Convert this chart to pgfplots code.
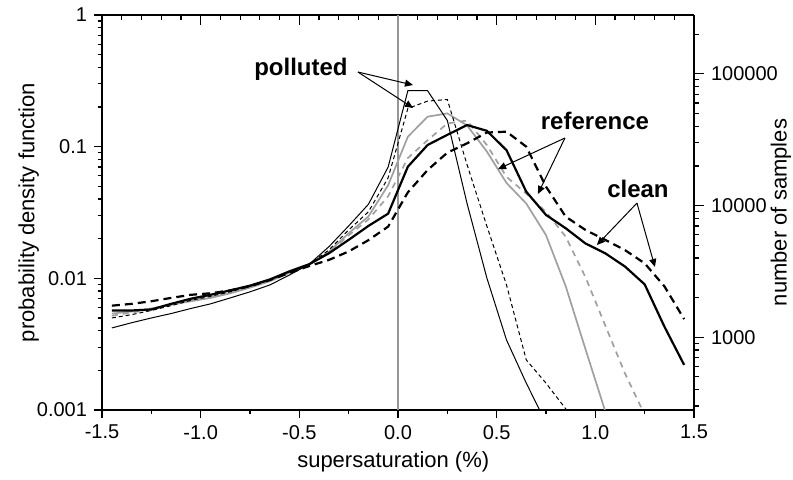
\documentclass[border=0pt]{standalone}
\usepackage{fontspec}
\setmainfont{Liberation Sans}
\usepackage{pgfplots}
\usepackage{pgfplotstable}
\pgfplotsset{compat=1.18}
\usetikzlibrary{arrows.meta}

\definecolor{lgray}{RGB}{160,160,160}
\definecolor{zgray}{RGB}{150,150,150}

% pdf per bin: A polluted solid, B polluted dashed, C reference solid,
% D reference dashed, E clean solid, F clean dashed
\pgfplotstableread{
x     A       B       C       D       E       F
-1.45 0.0042  0.0050  0.0054  0.0052  0.0057  0.0062
-1.35 0.0046  0.0053  0.0056  0.0055  0.0057  0.0064
-1.25 0.0050  0.0057  0.0059  0.0058  0.0058  0.0067
-1.15 0.0054  0.0062  0.0063  0.0063  0.0064  0.0071
-1.05 0.0059  0.0068  0.0067  0.0068  0.0070  0.0075
-0.95 0.0064  0.0073  0.0071  0.0072  0.0075  0.0077
-0.85 0.0071  0.0079  0.0077  0.0078  0.0081  0.0081
-0.75 0.0079  0.0087  0.0085  0.0086  0.0088  0.0087
-0.65 0.0089  0.0097  0.0095  0.0096  0.0098  0.0097
-0.55 0.0106  0.0112  0.0110  0.0111  0.0113  0.0110
-0.45 0.0128  0.0128  0.0127  0.0127  0.0128  0.0124
-0.35 0.0174  0.0164  0.0159  0.0157  0.0155  0.0138
-0.25 0.0250  0.0233  0.0220  0.0212  0.0196  0.0160
-0.15 0.0365  0.0320  0.0295  0.0280  0.0250  0.0195
-0.05 0.0700  0.0580  0.0510  0.0420  0.0310  0.0247
0.05  0.266   0.195   0.119   0.082   0.0705  0.045
0.15  0.266   0.222   0.169   0.112   0.103   0.0665
0.25  0.158   0.228   0.179   0.150   0.123   0.090
0.35  0.037   0.073   0.145   0.158   0.146   0.106
0.45  0.0101  0.025   0.092   0.103   0.132   0.128
0.55  0.0034  0.0089  0.053   0.059   0.094   0.130
0.65  0.0016  0.0024  0.037   0.044   0.0455  0.100
0.75  0.0008  0.0016  0.0213  0.032   0.0303  0.0497
0.85  nan     0.00102 0.0087  0.0207  0.024   0.0294
0.95  nan     0.0006  0.0029  0.0102  0.0184  0.0233
1.05  nan     nan     0.00098 0.0044  0.0155  0.0196
1.15  nan     nan     0.0004  0.0019  0.0123  0.0164
1.25  nan     nan     nan     0.00092 0.0090  0.0130
1.35  nan     nan     nan     0.0004  0.0043  0.0087
1.45  nan     nan     nan     nan     0.0022  0.0049
}\pdfdata

\begin{document}
\begin{tikzpicture}
\path[use as bounding box] (-51pt,-35pt) rectangle (345.5pt,205pt);
\pgfplotsset{every axis/.append style={
  scale only axis, width=296pt, height=197.5pt,
  xmin=-1.5, xmax=1.5,
  axis line style={line width=0.65pt},
  tick style={line width=0.6pt, black},
  major tick length=4pt, minor tick length=2pt,
  tick label style={font=\fontsize{10}{12}\selectfont},
  label style={font=\fontsize{11}{13}\selectfont}}}

% top ticks
\begin{axis}[hide y axis, ymin=0, ymax=1,
  axis x line*=top, tick align=inside,
  major tick length=5pt, minor tick length=2.5pt,
  xtick={-1.5,-1,-0.5,0,0.5,1,1.5}, xticklabels={},
  minor x tick num=4]
\end{axis}

% right axis: number of samples
\begin{axis}[hide x axis, ymode=log, ymin=280, ymax=280000,
  axis y line*=right, tick align=outside,
  major tick length=5pt, minor tick length=2.5pt,
  ytick={1000,10000,100000}, yticklabels={1000,10000,100000},
  minor ytick={300,400,500,600,700,800,900,2000,3000,4000,5000,6000,7000,8000,9000,
    20000,30000,40000,50000,60000,70000,80000,90000,200000},
  ylabel={number of samples},
  ylabel style={at={(axis description cs:1.147,0.5)}, anchor=center}]
\end{axis}

% main axis
\begin{axis}[ymode=log, ymin=0.001, ymax=1,
  axis x line*=bottom, axis y line*=left, tick align=outside,
  xtick={-1.5,-1,-0.5,0,0.5,1,1.5},
  xticklabels={-1.5,-1.0,-0.5,0.0,0.5,1.0,1.5},
  minor x tick num=1,
  ytick={0.001,0.01,0.1,1}, yticklabels={0.001,0.01,0.1,1},
  minor ytick={0.002,0.003,0.004,0.005,0.006,0.007,0.008,0.009,
    0.02,0.03,0.04,0.05,0.06,0.07,0.08,0.09,
    0.2,0.3,0.4,0.5,0.6,0.7,0.8,0.9},
  xlabel={supersaturation (\%)},
  ylabel={probability density function},
  xlabel style={at={(axis description cs:0.492,-0.132)}, anchor=center},
  ylabel style={at={(axis description cs:-0.124,0.5)}, anchor=center},
  unbounded coords=jump]

\addplot[zgray, line width=0.6pt] coordinates {(0,0.001) (0,1)};

\addplot[lgray, line width=0.85pt] table[x=x,y=C]{\pdfdata};
\addplot[lgray, line width=0.85pt, dash pattern=on 3pt off 2.5pt] table[x=x,y=D]{\pdfdata};
\addplot[black, line width=0.5pt] table[x=x,y=A]{\pdfdata};
\addplot[black, line width=0.5pt, dash pattern=on 2pt off 1.5pt] table[x=x,y=B]{\pdfdata};
\addplot[black, line width=1.1pt] table[x=x,y=E]{\pdfdata};
\addplot[black, line width=1.1pt, dash pattern=on 4pt off 2.5pt] table[x=x,y=F]{\pdfdata};

\node[font=\bfseries\fontsize{12}{14}\selectfont] at (axis cs:-0.492,0.389) {polluted};
\draw[-{Triangle[length=4pt,width=3.5pt]}, line width=0.5pt] (axis cs:-0.203,0.369) -- (axis cs:0.076,0.294);
\draw[-{Triangle[length=4pt,width=3.5pt]}, line width=0.5pt] (axis cs:-0.203,0.369) -- (axis cs:0.076,0.197);

\node[font=\bfseries\fontsize{12}{14}\selectfont] at (axis cs:0.998,0.157) {reference};
\draw[-{Triangle[length=4pt,width=3.5pt]}, line width=0.5pt] (axis cs:0.846,0.1164) -- (axis cs:0.507,0.0676);
\draw[-{Triangle[length=4pt,width=3.5pt]}, line width=0.5pt] (axis cs:0.846,0.1164) -- (axis cs:0.709,0.0437);

\node[font=\bfseries\fontsize{12}{14}\selectfont] at (axis cs:1.216,0.0477) {clean};
\draw[-{Triangle[length=4pt,width=3.5pt]}, line width=0.5pt] (axis cs:1.211,0.0373) -- (axis cs:1.008,0.0179);
\draw[-{Triangle[length=4pt,width=3.5pt]}, line width=0.5pt] (axis cs:1.211,0.0373) -- (axis cs:1.302,0.0122);
\end{axis}
\end{tikzpicture}
\end{document}
